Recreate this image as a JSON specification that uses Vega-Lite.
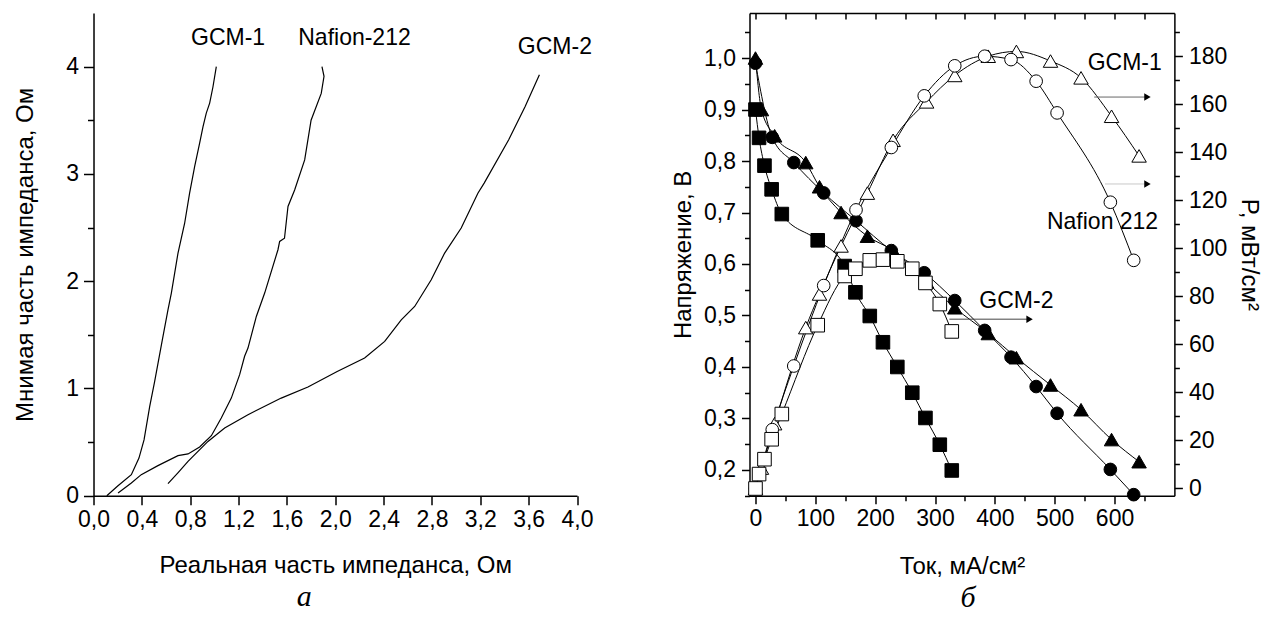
{
  "$schema": "https://vega.github.io/schema/vega-lite/v6.json",
  "background": "white",
  "padding": {"left": 13.5, "top": 12, "right": 8, "bottom": 0},
  "bounds": "flush",
  "spacing": 172,
  "config": {
    "view": {"stroke": null},
    "axis": {
      "grid": false,
      "domainColor": "black",
      "domainWidth": 1.5,
      "tickColor": "black",
      "tickWidth": 1.5,
      "labelColor": "black",
      "titleColor": "black",
      "labelFont": "Liberation Sans",
      "titleFont": "Liberation Sans",
      "labelFontSize": 23,
      "titleFontSize": 24,
      "titleFontWeight": "normal",
      "labelFlush": false,
      "labelOverlap": false
    },
    "text": {"font": "Liberation Sans"}
  },
  "hconcat": [
    {
      "width": 483.5,
      "height": 482.7,
      "title": {"text": "а", "orient": "bottom", "anchor": "middle", "font": "Liberation Serif", "fontStyle": "italic", "fontWeight": "normal", "fontSize": 30, "offset": 4, "dx": -31, "color": "black"},
      "layer": [
        {
          "data": {"values": [
            {"s": "GCM-1", "re": 0.11, "im": 0.0},
            {"s": "GCM-1", "re": 0.2, "im": 0.09},
            {"s": "GCM-1", "re": 0.313, "im": 0.196},
            {"s": "GCM-1", "re": 0.376, "im": 0.351},
            {"s": "GCM-1", "re": 0.418, "im": 0.52},
            {"s": "GCM-1", "re": 0.465, "im": 0.832},
            {"s": "GCM-1", "re": 0.506, "im": 1.065},
            {"s": "GCM-1", "re": 0.569, "im": 1.45},
            {"s": "GCM-1", "re": 0.616, "im": 1.733},
            {"s": "GCM-1", "re": 0.644, "im": 1.889},
            {"s": "GCM-1", "re": 0.699, "im": 2.262},
            {"s": "GCM-1", "re": 0.754, "im": 2.54},
            {"s": "GCM-1", "re": 0.795, "im": 2.82},
            {"s": "GCM-1", "re": 0.837, "im": 3.07},
            {"s": "GCM-1", "re": 0.878, "im": 3.287},
            {"s": "GCM-1", "re": 0.906, "im": 3.44},
            {"s": "GCM-1", "re": 0.933, "im": 3.567},
            {"s": "GCM-1", "re": 0.961, "im": 3.66},
            {"s": "GCM-1", "re": 0.988, "im": 3.81},
            {"s": "GCM-1", "re": 1.016, "im": 4.0},
            {"s": "Nafion-212", "re": 0.203, "im": 0.025},
            {"s": "Nafion-212", "re": 0.313, "im": 0.118},
            {"s": "Nafion-212", "re": 0.395, "im": 0.196},
            {"s": "Nafion-212", "re": 0.533, "im": 0.28},
            {"s": "Nafion-212", "re": 0.699, "im": 0.373},
            {"s": "Nafion-212", "re": 0.782, "im": 0.389},
            {"s": "Nafion-212", "re": 0.878, "im": 0.454},
            {"s": "Nafion-212", "re": 0.975, "im": 0.559},
            {"s": "Nafion-212", "re": 1.057, "im": 0.724},
            {"s": "Nafion-212", "re": 1.14, "im": 0.91},
            {"s": "Nafion-212", "re": 1.209, "im": 1.128},
            {"s": "Nafion-212", "re": 1.25, "im": 1.3},
            {"s": "Nafion-212", "re": 1.278, "im": 1.376},
            {"s": "Nafion-212", "re": 1.347, "im": 1.671},
            {"s": "Nafion-212", "re": 1.416, "im": 1.889},
            {"s": "Nafion-212", "re": 1.526, "im": 2.293},
            {"s": "Nafion-212", "re": 1.54, "im": 2.37},
            {"s": "Nafion-212", "re": 1.58, "im": 2.4},
            {"s": "Nafion-212", "re": 1.609, "im": 2.696},
            {"s": "Nafion-212", "re": 1.664, "im": 2.85},
            {"s": "Nafion-212", "re": 1.747, "im": 3.13},
            {"s": "Nafion-212", "re": 1.8, "im": 3.5},
            {"s": "Nafion-212", "re": 1.884, "im": 3.75},
            {"s": "Nafion-212", "re": 1.907, "im": 3.91},
            {"s": "Nafion-212", "re": 1.89, "im": 4.0},
            {"s": "GCM-2", "re": 0.616, "im": 0.112},
            {"s": "GCM-2", "re": 0.7, "im": 0.215},
            {"s": "GCM-2", "re": 0.782, "im": 0.32},
            {"s": "GCM-2", "re": 0.947, "im": 0.506},
            {"s": "GCM-2", "re": 1.085, "im": 0.631},
            {"s": "GCM-2", "re": 1.278, "im": 0.755},
            {"s": "GCM-2", "re": 1.553, "im": 0.91},
            {"s": "GCM-2", "re": 1.774, "im": 1.013},
            {"s": "GCM-2", "re": 2.016, "im": 1.158},
            {"s": "GCM-2", "re": 2.243, "im": 1.283},
            {"s": "GCM-2", "re": 2.409, "im": 1.438},
            {"s": "GCM-2", "re": 2.546, "im": 1.64},
            {"s": "GCM-2", "re": 2.657, "im": 1.764},
            {"s": "GCM-2", "re": 2.794, "im": 2.013},
            {"s": "GCM-2", "re": 2.905, "im": 2.262},
            {"s": "GCM-2", "re": 3.042, "im": 2.495},
            {"s": "GCM-2", "re": 3.18, "im": 2.82},
            {"s": "GCM-2", "re": 3.232, "im": 2.914},
            {"s": "GCM-2", "re": 3.435, "im": 3.318},
            {"s": "GCM-2", "re": 3.571, "im": 3.628},
            {"s": "GCM-2", "re": 3.689, "im": 3.924}
          ]},
          "mark": {"type": "line", "color": "black", "strokeWidth": 1.2},
          "encoding": {
            "x": {"field": "re", "type": "quantitative",
              "scale": {"domain": [0, 4], "nice": false, "zero": false},
              "axis": {"title": "Реальная часть импеданса, Ом",
                "values": [0, 0.2, 0.4, 0.6, 0.8, 1, 1.2, 1.4, 1.6, 1.8, 2, 2.2, 2.4, 2.6, 2.8, 3, 3.2, 3.4, 3.6, 3.8, 4],
                "tickSize": {"condition": {"test": "round(datum.value*5) % 2 == 1", "value": 5}, "value": 9},
                "labelExpr": "round(datum.value*5) % 2 == 1 ? '' : replace(format(datum.value, '.1f'), '.', ',')",
                "labelPadding": 4, "titlePadding": 22}},
            "y": {"field": "im", "type": "quantitative",
              "scale": {"domain": [0, 4.5], "nice": false, "zero": false},
              "axis": {"title": "Мнимая часть импеданса, Ом",
                "values": [0, 0.5, 1, 1.5, 2, 2.5, 3, 3.5, 4],
                "tickSize": {"condition": {"test": "round(datum.value*2) % 2 == 1", "value": 6}, "value": 10},
                "labelExpr": "round(datum.value*2) % 2 == 1 ? '' : format(datum.value, 'd')",
                "labelPadding": 5, "titlePadding": 28}},
            "detail": {"field": "s"},
            "order": {"value": null}
          }
        },
        {
          "data": {"values": [
            {"x": 1.113, "y": 4.266, "t": "GCM-1"},
            {"x": 2.159, "y": 4.266, "t": "Nafion-212"},
            {"x": 3.817, "y": 4.187, "t": "GCM-2"}
          ]},
          "mark": {"type": "text", "fontSize": 23, "color": "black", "align": "center", "baseline": "middle"},
          "encoding": {
            "x": {"field": "x", "type": "quantitative"},
            "y": {"field": "y", "type": "quantitative"},
            "text": {"field": "t"}
          }
        }
      ]
    },
    {
      "width": 424.9,
      "height": 482.7,
      "title": {"text": "б", "orient": "bottom", "anchor": "middle", "font": "Liberation Serif", "fontStyle": "italic", "fontWeight": "normal", "fontSize": 30, "offset": 4, "dx": 6, "color": "black"},
      "data": {"values": [
        {"s": "GCM-1", "I": 0, "V": 1.0, "P": 0},
        {"s": "GCM-1", "I": 10, "V": 0.9, "P": 8.5},
        {"s": "GCM-1", "I": 32, "V": 0.849, "P": 27},
        {"s": "GCM-1", "I": 84, "V": 0.797, "P": 67},
        {"s": "GCM-1", "I": 107, "V": 0.75, "P": 81},
        {"s": "GCM-1", "I": 143, "V": 0.7, "P": 101},
        {"s": "GCM-1", "I": 187, "V": 0.654, "P": 123},
        {"s": "GCM-1", "I": 230, "V": 0.626, "P": 145},
        {"s": "GCM-1", "I": 286, "V": 0.565, "P": 161},
        {"s": "GCM-1", "I": 333, "V": 0.515, "P": 172},
        {"s": "GCM-1", "I": 389, "V": 0.465, "P": 180},
        {"s": "GCM-1", "I": 436, "V": 0.418, "P": 182},
        {"s": "GCM-1", "I": 493, "V": 0.365, "P": 178},
        {"s": "GCM-1", "I": 544, "V": 0.317, "P": 171},
        {"s": "GCM-1", "I": 595, "V": 0.259, "P": 155},
        {"s": "GCM-1", "I": 641, "V": 0.216, "P": 138.5},
        {"s": "Nafion 212", "I": 0, "V": 0.99, "P": 0},
        {"s": "Nafion 212", "I": 28, "V": 0.846, "P": 24.5},
        {"s": "Nafion 212", "I": 64, "V": 0.797, "P": 51},
        {"s": "Nafion 212", "I": 114, "V": 0.738, "P": 84.5},
        {"s": "Nafion 212", "I": 168, "V": 0.684, "P": 116},
        {"s": "Nafion 212", "I": 227, "V": 0.626, "P": 142},
        {"s": "Nafion 212", "I": 282, "V": 0.583, "P": 163.5},
        {"s": "Nafion 212", "I": 333, "V": 0.529, "P": 176},
        {"s": "Nafion 212", "I": 383, "V": 0.471, "P": 180},
        {"s": "Nafion 212", "I": 427, "V": 0.419, "P": 178.6},
        {"s": "Nafion 212", "I": 469, "V": 0.362, "P": 169.6},
        {"s": "Nafion 212", "I": 504, "V": 0.31, "P": 156.4},
        {"s": "Nafion 212", "I": 593, "V": 0.201, "P": 119.2},
        {"s": "Nafion 212", "I": 632, "V": 0.152, "P": 95},
        {"s": "GCM-2", "I": 0, "V": 0.9, "P": 0},
        {"s": "GCM-2", "I": 6, "V": 0.845, "P": 6},
        {"s": "GCM-2", "I": 15, "V": 0.791, "P": 12.2},
        {"s": "GCM-2", "I": 27, "V": 0.745, "P": 20.5},
        {"s": "GCM-2", "I": 44, "V": 0.697, "P": 31},
        {"s": "GCM-2", "I": 104, "V": 0.646, "P": 68},
        {"s": "GCM-2", "I": 149, "V": 0.596, "P": 88.5},
        {"s": "GCM-2", "I": 167, "V": 0.545, "P": 91.5},
        {"s": "GCM-2", "I": 191, "V": 0.499, "P": 95},
        {"s": "GCM-2", "I": 213, "V": 0.448, "P": 95.3},
        {"s": "GCM-2", "I": 237, "V": 0.4, "P": 94.6},
        {"s": "GCM-2", "I": 262, "V": 0.35, "P": 91.5},
        {"s": "GCM-2", "I": 284, "V": 0.301, "P": 85.6},
        {"s": "GCM-2", "I": 308, "V": 0.249, "P": 76.8},
        {"s": "GCM-2", "I": 328, "V": 0.199, "P": 65.4}
      ]},
      "layer": [
        {
          "encoding": {
            "x": {"field": "I", "type": "quantitative",
              "scale": {"domain": [-10, 700], "nice": false, "zero": false},
              "axis": {"title": "Ток, мА/см²", "orient": "bottom",
                "values": [0, 50, 100, 150, 200, 250, 300, 350, 400, 450, 500, 550, 600, 650],
                "tickSize": {"condition": {"test": "datum.value % 100 != 0", "value": 5}, "value": 8},
                "labelExpr": "datum.value % 100 == 0 ? format(datum.value, 'd') : ''",
                "labelPadding": 4, "titlePadding": 24}},
            "y": {"field": "V", "type": "quantitative",
              "scale": {"domain": [0.15, 1.0875], "nice": false, "zero": false},
              "axis": {"title": "Напряжение, В", "orient": "left",
                "values": [0.15, 0.2, 0.25, 0.3, 0.35, 0.4, 0.45, 0.5, 0.55, 0.6, 0.65, 0.7, 0.75, 0.8, 0.85, 0.9, 0.95, 1.0, 1.05],
                "tickSize": {"condition": {"test": "round(datum.value*100) % 10 != 0", "value": 5}, "value": 8},
                "labelExpr": "round(datum.value*100) % 10 != 0 ? '' : replace(format(datum.value, '.1f'), '.', ',')",
                "labelPadding": 6, "titlePadding": 8}}
          },
          "layer": [
            {"mark": {"type": "line", "interpolate": "monotone", "color": "black", "strokeWidth": 1},
             "encoding": {"detail": {"field": "s"}}},
            {"mark": {"type": "point", "filled": true, "fill": "black", "stroke": "black", "strokeWidth": 1, "opacity": 1},
             "encoding": {
               "shape": {"field": "s", "type": "nominal", "scale": {"domain": ["GCM-1", "GCM-2", "Nafion 212"], "range": ["triangle-up", "square", "circle"]}, "legend": null},
               "size": {"field": "s", "type": "ordinal", "scale": {"domain": ["GCM-1", "GCM-2", "Nafion 212"], "range": [210, 160, 165]}, "legend": null}
             }}
          ]
        },
        {
          "encoding": {
            "x": {"field": "I", "type": "quantitative",
              "scale": {"domain": [-10, 700], "nice": false, "zero": false},
              "axis": {"title": null, "orient": "top", "labels": false,
                "values": [0, 50, 100, 150, 200, 250, 300, 350, 400, 450, 500, 550, 600, 650],
                "tickSize": -6}},
            "y": {"field": "P", "type": "quantitative",
              "scale": {"domain": [-3, 198], "nice": false, "zero": false},
              "axis": {"title": "P, мВт/см²", "orient": "right",
                "values": [0, 10, 20, 30, 40, 50, 60, 70, 80, 90, 100, 110, 120, 130, 140, 150, 160, 170, 180, 190],
                "tickSize": {"condition": {"test": "datum.value % 20 != 0", "value": 5}, "value": 8},
                "labelExpr": "datum.value % 20 == 0 ? format(datum.value, 'd') : ''",
                "labelPadding": 6, "titlePadding": 10}}
          },
          "layer": [
            {"mark": {"type": "line", "interpolate": "monotone", "color": "black", "strokeWidth": 1},
             "encoding": {"detail": {"field": "s"}}},
            {"mark": {"type": "point", "filled": true, "fill": "white", "stroke": "black", "strokeWidth": 1, "opacity": 1},
             "encoding": {
               "shape": {"field": "s", "type": "nominal", "scale": {"domain": ["GCM-1", "GCM-2", "Nafion 212"], "range": ["triangle-up", "square", "circle"]}, "legend": null},
               "size": {"field": "s", "type": "ordinal", "scale": {"domain": ["GCM-1", "GCM-2", "Nafion 212"], "range": [210, 160, 165]}, "legend": null}
             }},
            {"data": {"values": [
               {"s": "GCM-1", "I": 566, "I2": 652, "P": 163},
               {"s": "Nafion 212", "I": 584, "I2": 652, "P": 126.8},
               {"s": "GCM-2", "I": 324, "I2": 455, "P": 70.5}
             ]},
             "mark": {"type": "rule", "strokeWidth": 1},
             "encoding": {
               "x2": {"field": "I2"},
               "color": {"field": "s", "type": "nominal", "scale": {"domain": ["GCM-1", "Nafion 212", "GCM-2"], "range": ["#666666", "#c8c8c8", "#444444"]}, "legend": null}
             }},
            {"data": {"values": [
               {"I": 655, "P": 163},
               {"I": 655, "P": 126.8},
               {"I": 458, "P": 70.5}
             ]},
             "mark": {"type": "point", "shape": "triangle-right", "filled": true, "fill": "black", "stroke": null, "size": 55, "opacity": 1},
             "encoding": {}},
            {"data": {"values": [
               {"I": 617, "P": 177.3, "t": "GCM-1"},
               {"I": 580, "P": 111.1, "t": "Nafion 212"},
               {"I": 436, "P": 77.9, "t": "GCM-2"}
             ]},
             "mark": {"type": "text", "fontSize": 23, "color": "black", "align": "center", "baseline": "middle"},
             "encoding": {"text": {"field": "t"}}}
          ]
        }
      ],
      "resolve": {"scale": {"y": "independent"}, "axis": {"x": "independent", "y": "independent"}}
    }
  ]
}
